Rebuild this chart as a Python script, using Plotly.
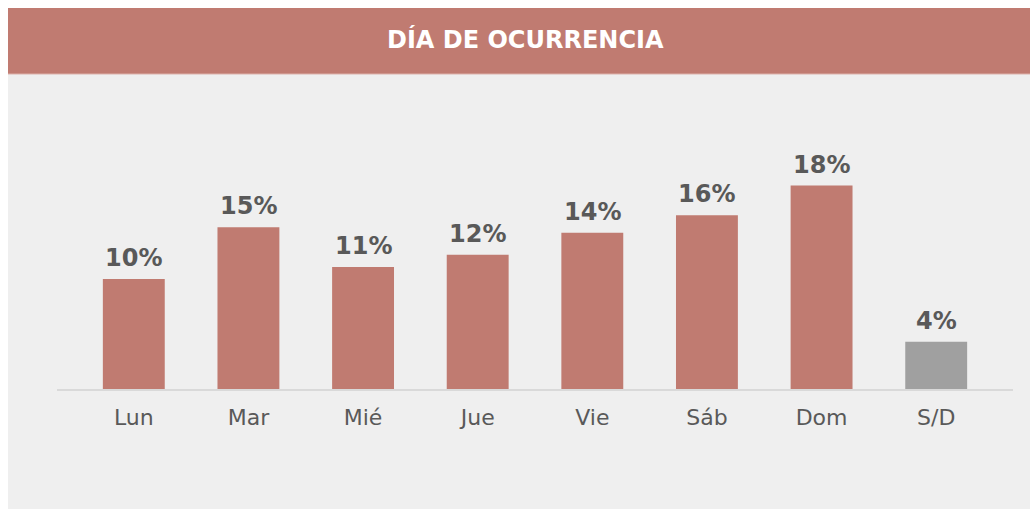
import plotly.graph_objects as go

# ---- data ----
dias = ["Lun", "Mar", "Mié", "Jue", "Vie", "Sáb", "Dom", "S/D"]
porcentajes = [10.0, 14.7, 11.1, 12.2, 14.2, 15.8, 18.5, 4.3]
etiquetas = ["10%", "15%", "11%", "12%", "14%", "16%", "18%", "4%"]
titulo = "DÍA DE OCURRENCIA"

# ---- style ----
ROJO = "#c07b71"
GRIS = "#a0a0a0"
FONDO = "#efefef"
TEXTO = "#595959"
colores = [GRIS if d == "S/D" else ROJO for d in dias]

# figure coordinates (page body adds an 8px margin)
W, H = 1022, 501
L, R, T, B = 49, 17, 117, 120
pw, ph = W - L - R, H - T - B


def px_x(p):
    return (p - L) / pw


def px_y(p):
    return (H - B - p) / ph


fig = go.Figure()
fig.add_trace(go.Bar(
    x=dias,
    y=porcentajes,
    marker=dict(color=colores, line=dict(width=0)),
    width=0.54,
    cliponaxis=False,
    hoverinfo="skip",
))

annotations = [dict(
    x=d, y=v, xref="x", yref="y", text=f"<b>{t}</b>",
    showarrow=False, xanchor="center", yanchor="bottom", yshift=5,
    font=dict(family="DejaVu Sans", size=24, color=TEXTO),
) for d, v, t in zip(dias, porcentajes, etiquetas)]

annotations.append(dict(
    text=f"<b>{titulo}</b>", xref="paper", yref="paper",
    x=px_x(517), y=px_y(32), xanchor="center", yanchor="middle",
    showarrow=False,
    font=dict(family="DejaVu Sans", size=24, color="white"),
))

shapes = [
    dict(type="rect", xref="paper", yref="paper", layer="below",
         x0=px_x(-5), x1=px_x(W + 5), y0=px_y(66), y1=px_y(-5),
         fillcolor=ROJO, line=dict(width=0)),
    dict(type="line", xref="paper", yref="paper", layer="below",
         x0=px_x(-5), x1=px_x(W + 5), y0=px_y(66), y1=px_y(66),
         line=dict(color="#ddb2ab", width=1)),
]

fig.update_layout(
    width=W, height=H,
    margin=dict(l=L, r=R, t=T, b=B, pad=0),
    paper_bgcolor=FONDO,
    plot_bgcolor="rgba(0,0,0,0)",
    showlegend=False,
    shapes=shapes,
    annotations=annotations,
    xaxis=dict(
        type="category", range=[-0.67, 7.67],
        showline=True, linecolor="#d9d9d9", linewidth=2,
        showgrid=False, zeroline=False,
        ticks="outside", ticklen=8, tickcolor="rgba(0,0,0,0)",
        tickfont=dict(family="DejaVu Sans", size=22, color=TEXTO),
        fixedrange=True,
    ),
    yaxis=dict(range=[0, 24], visible=False, fixedrange=True),
)

fig.write_html(
    "out.html",
    post_script="document.body.style.margin='8px 0 0 8px';"
                "document.documentElement.style.overflow='hidden';",
)
